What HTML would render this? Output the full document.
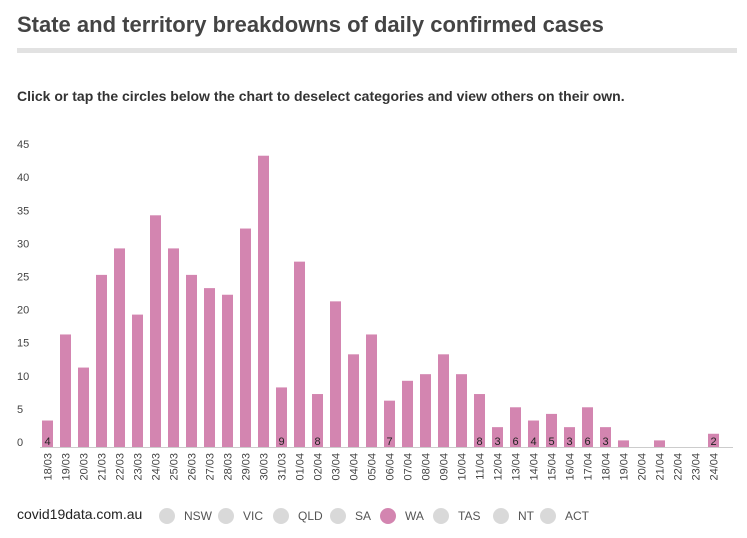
<!DOCTYPE html>
<html><head><meta charset="utf-8"><style>
body{margin:0;background:#fff;font-family:"Liberation Sans",sans-serif;}
#wrap{position:relative;width:747px;height:538px;overflow:hidden}
</style></head><body>
<div id="wrap">
<div style="position:absolute;left:17px;top:12px;font-size:22px;font-weight:bold;color:#444">State and territory breakdowns of daily confirmed cases</div>
<div style="position:absolute;left:17px;top:48px;width:720px;height:5px;background:#e2e2e2"></div>
<div style="position:absolute;left:17px;top:88px;font-size:14px;font-weight:bold;color:#333">Click or tap the circles below the chart to deselect categories and view others on their own.</div>
<svg id="chart" width="747" height="538" style="position:absolute;left:0;top:0"></svg>
<div style="position:absolute;left:17px;top:506px;font-size:14px;color:#222">covid19data.com.au</div>
</div>
<script>
const categories=["18/03","19/03","20/03","21/03","22/03","23/03","24/03","25/03","26/03","27/03","28/03","29/03","30/03","31/03","01/04","02/04","03/04","04/04","05/04","06/04","07/04","08/04","09/04","10/04","11/04","12/04","13/04","14/04","15/04","16/04","17/04","18/04","19/04","20/04","21/04","22/04","23/04","24/04"];
const waValues=[4,17,12,26,30,20,35,30,26,24,23,33,44,9,28,8,22,14,17,7,10,11,14,11,8,3,6,4,5,3,6,3,1,0,1,0,0,2];
const yTicks=[0,5,10,15,20,25,30,35,40,45];
const legendItems=["NSW","VIC","QLD","SA","WA","TAS","NT","ACT"];
const legendX=[167,226,281,338,388,441,501,548];
const svg=document.getElementById('chart');const NS="http://www.w3.org/2000/svg";
function mk(t,a,p){const e=document.createElementNS(NS,t);for(const k in a)e.setAttribute(k,a[k]);(p||svg).appendChild(e);return e;}
const base=447,unit=6.62;
function y(v){return base-v*unit;}
function x(i){return 47.5+i*18;}
yTicks.forEach(v=>{const t=mk('text',{x:17,y:y(v)-1,'font-size':11,fill:'#444'});t.textContent=v;

});
const ax=mk('line',{x1:40,x2:733,y1:base+0.5,y2:base+0.5,stroke:'#ccc'});


categories.forEach((c,i)=>{const v=waValues[i];
const r=mk('rect',{x:x(i)-5.5,y:y(v),width:11,height:v*unit,fill:'#d385b0'});


if(v>=2&&v<10){const l=mk('text',{x:x(i),y:445,'font-size':11,'text-anchor':'middle',fill:'#222'});l.textContent=v;

}
const t=mk('text',{transform:`translate(${x(i)+4},453) rotate(-90)`,'font-size':11,'text-anchor':'end',fill:'#444'});t.textContent=c;

});
legendItems.forEach((n,i)=>{const g=mk('g',{});


mk('circle',{cx:legendX[i],cy:516,r:8,fill:n==='WA'?'#d385b0':'#d9d9d9'},g);
const t=mk('text',{x:legendX[i]+17,y:520,'font-size':12,fill:'#555'},g);t.textContent=n;});
</script>
</body></html>
